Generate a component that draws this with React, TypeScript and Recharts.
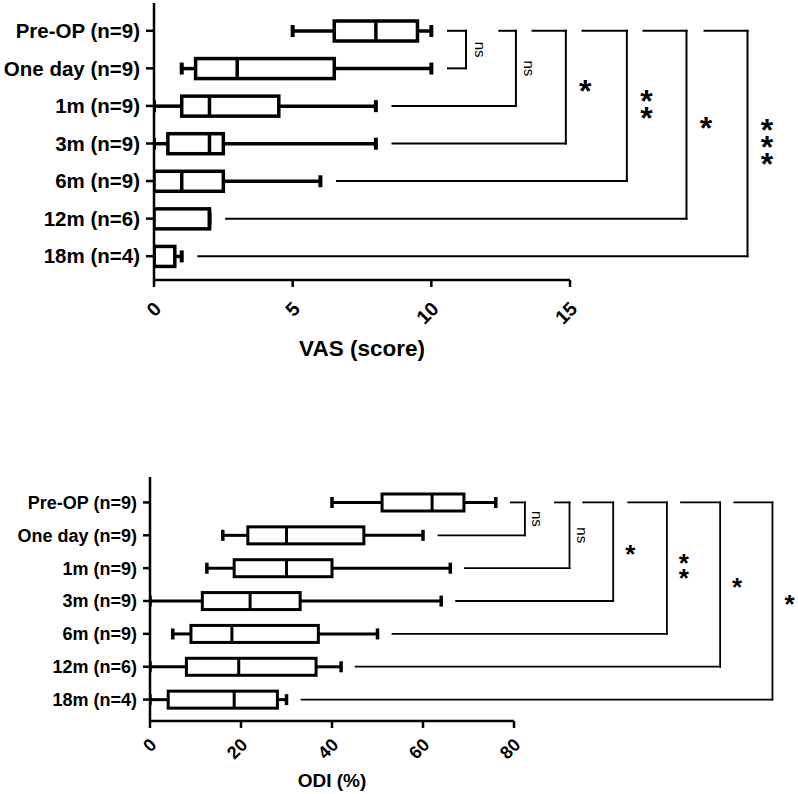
import React from 'react'
import { ComposedChart, Bar, XAxis, YAxis, ReferenceLine } from 'recharts'

const FONT = '"Liberation Sans", Arial, sans-serif'

const groups = ['Pre-OP (n=9)', 'One day (n=9)', '1m (n=9)', '3m (n=9)', '6m (n=9)', '12m (n=6)', '18m (n=4)']

// VAS (score) box summaries
const vasMin = [5, 1, 0, 0, 0, 0, 0]
const vasQ1 = [6.5, 1.5, 1, 0.5, 0, 0, 0]
const vasMedian = [8, 3, 2, 2, 1, 2, 0]
const vasQ3 = [9.5, 6.5, 4.5, 2.5, 2.5, 2, 0.75]
const vasMax = [10, 10, 8, 8, 6, 2, 1]
const vasTicks = [0, 5, 10, 15]

// ODI (%) box summaries
const odiMin = [40, 16, 12.5, 0, 5, 0, 0]
const odiQ1 = [51, 21.5, 18.5, 11.5, 9, 8, 4]
const odiMedian = [62, 30, 30, 22, 18, 19.5, 18.5]
const odiQ3 = [69, 47, 40, 33, 37, 36.5, 28]
const odiMax = [76, 60, 66, 64, 50, 42, 30]
const odiTicks = [0, 20, 40, 60, 80]

// Pre-OP vs each later group
const vasSig = ['ns', 'ns', '*', '**', '*', '***']
const vasBracketTop = [10.6, 12.45, 13.65, 15.45, 17.65, 19.85]
const vasBracketRight = [11.25, 13.05, 14.85, 17.05, 19.2, 21.4]
const vasBracketBottom = [10.6, 8.6, 8.6, 6.6, 2.6, 1.6]

const odiSig = ['ns', 'ns', '*', '**', '*', '*']
const odiBracketTop = [79.3, 89, 95.2, 105.1, 116.7, 128.4]
const odiBracketRight = [82.4, 92.2, 101.8, 113.6, 125.3, 136.8]
const odiBracketBottom = [63.4, 69.2, 67.3, 53.3, 45.2, 33.3]

const buildRows = (mn: number[], q1: number[], md: number[], q3: number[], mx: number[]) =>
  groups.map((g, i) => ({
    group: g,
    range: [mn[i], mx[i]],
    min: mn[i],
    q1: q1[i],
    median: md[i],
    q3: q3[i],
    max: mx[i],
  }))

const vasRows = buildRows(vasMin, vasQ1, vasMedian, vasQ3, vasMax)
const odiRows = buildRows(odiMin, odiQ1, odiMedian, odiQ3, odiMax)

// the bar spans min..max on the x scale, the rest is placed inside it
function BoxShape(props: any) {
  const { x, y, width, height, payload, cap, sw } = props
  if (!payload) return null
  const span = payload.max - payload.min
  const px = (v: number) => x + (span === 0 ? 0 : ((v - payload.min) / span) * width)
  const cy = y + height / 2
  return (
    <g>
      <line x1={px(payload.min)} y1={cy} x2={px(payload.q1)} y2={cy} stroke="#000" strokeWidth={sw} />
      <line x1={px(payload.q3)} y1={cy} x2={px(payload.max)} y2={cy} stroke="#000" strokeWidth={sw} />
      <line x1={px(payload.min)} y1={cy - cap / 2} x2={px(payload.min)} y2={cy + cap / 2} stroke="#000" strokeWidth={sw + 0.5} />
      <line x1={px(payload.max)} y1={cy - cap / 2} x2={px(payload.max)} y2={cy + cap / 2} stroke="#000" strokeWidth={sw + 0.5} />
      <rect
        x={px(payload.q1)}
        y={y}
        width={Math.max(px(payload.q3) - px(payload.q1), 0)}
        height={height}
        fill="#fff"
        stroke="#000"
        strokeWidth={sw}
      />
      <line x1={px(payload.median)} y1={y} x2={px(payload.median)} y2={y + height} stroke="#000" strokeWidth={sw} />
    </g>
  )
}

function RotTick(props: any) {
  const { x, y, payload, offX, offY, size } = props
  const ax = x + offX
  const ay = y + offY
  return (
    <text
      x={ax}
      y={ay}
      transform={`rotate(-45 ${ax} ${ay})`}
      textAnchor="end"
      fontSize={size}
      fontWeight="bold"
      fontFamily={FONT}
      fill="#000"
    >
      {payload.value}
    </text>
  )
}

function SigLabel(props: any) {
  const { viewBox, text, nsDx, starDx, starSize, starGap } = props
  if (!viewBox) return null
  const cy = viewBox.y + viewBox.height / 2
  if (text === 'ns') {
    const cx = viewBox.x + nsDx
    return (
      <text
        x={cx}
        y={cy}
        transform={`rotate(90 ${cx} ${cy})`}
        textAnchor="middle"
        dominantBaseline="central"
        fontSize={15}
        fontFamily={FONT}
        fill="#000"
      >
        ns
      </text>
    )
  }
  // stacked asterisks, one text element
  const cx = viewBox.x + starDx
  const n = text.length
  const y0 = cy - ((n - 1) / 2) * starGap + starSize * 0.45
  return (
    <text x={cx} y={y0} textAnchor="middle" fontSize={starSize} fontWeight="bold" fontFamily={FONT} fill="#000">
      {text.split('').map((s: string, k: number) => (
        <tspan key={k} x={cx} dy={k === 0 ? 0 : starGap}>
          {s}
        </tspan>
      ))}
    </text>
  )
}

function brackets(
  sig: string[],
  top: number[],
  right: number[],
  bottom: number[],
  lw: number,
  lbl: { nsDx: number; starDx: number; starSize: number; starGap: number }
) {
  const out: React.ReactNode[] = []
  sig.forEach((s, i) => {
    const target = groups[i + 1]
    const common = { stroke: '#000', strokeWidth: lw, ifOverflow: 'visible' as const, strokeLinecap: 'square' as const }
    out.push(
      <ReferenceLine key={`t${i}`} segment={[{ x: top[i], y: groups[0] }, { x: right[i], y: groups[0] }]} {...common} />
    )
    out.push(
      <ReferenceLine
        key={`v${i}`}
        segment={[{ x: right[i], y: groups[0] }, { x: right[i], y: target }]}
        {...common}
        label={<SigLabel text={s} {...lbl} />}
      />
    )
    out.push(
      <ReferenceLine key={`b${i}`} segment={[{ x: bottom[i], y: target }, { x: right[i], y: target }]} {...common} />
    )
  })
  return out
}

export default function App() {
  return (
    <div style={{ position: 'absolute', left: 0, top: 0, width: 798, height: 794, background: '#fff', fontFamily: FONT }}>
      <div style={{ position: 'absolute', left: 0, top: 0 }}>
        <ComposedChart width={798} height={370} data={vasRows} layout="vertical" margin={{ top: 3, right: 228, bottom: 0, left: 0 }}>
          <XAxis
            type="number"
            domain={[0, 15]}
            ticks={vasTicks}
            allowDataOverflow
            height={90}
            tickSize={7}
            tickMargin={2}
            axisLine={{ stroke: '#000', strokeWidth: 2.5 }}
            tickLine={{ stroke: '#000', strokeWidth: 2.5 }}
            tick={(p: any) => <RotTick {...p} offX={8.5} offY={21} size={19.5} />}
            label={{ value: 'VAS (score)', position: 'insideBottom', offset: 14, style: { fontSize: 22.5, fontWeight: 'bold', fontFamily: FONT, fill: '#000' } }}
          />
          <YAxis
            type="category"
            dataKey="group"
            width={154}
            interval={0}
            tickSize={8}
            tickMargin={6}
            padding={{ top: 9, bottom: 5 }}
            axisLine={{ stroke: '#000', strokeWidth: 2.5 }}
            tickLine={{ stroke: '#000', strokeWidth: 2.5 }}
            tick={{ fontSize: 20.5, fontWeight: 'bold', fontFamily: FONT, fill: '#000' }}
          />
          <Bar dataKey="range" barSize={20} isAnimationActive={false} shape={(p: any) => <BoxShape {...p} cap={12} sw={3.5} />} />
          {brackets(vasSig, vasBracketTop, vasBracketRight, vasBracketBottom, 2, { nsDx: 14, starDx: 19.5, starSize: 32, starGap: 17 })}
        </ComposedChart>
      </div>
      <div style={{ position: 'absolute', left: 0, top: 470 }}>
        <ComposedChart width={798} height={324} data={odiRows} layout="vertical" margin={{ top: 7, right: 284, bottom: 0, left: 0 }}>
          <XAxis
            type="number"
            domain={[0, 80]}
            ticks={odiTicks}
            allowDataOverflow
            height={73}
            tickSize={7}
            tickMargin={2}
            axisLine={{ stroke: '#000', strokeWidth: 2.5 }}
            tickLine={{ stroke: '#000', strokeWidth: 2.5 }}
            tick={(p: any) => <RotTick {...p} offX={7.5} offY={16} size={18} />}
            label={{ value: 'ODI (%)', position: 'insideBottom', offset: 7, style: { fontSize: 19, fontWeight: 'bold', fontFamily: FONT, fill: '#000' } }}
          />
          <YAxis
            type="category"
            dataKey="group"
            width={150}
            interval={0}
            tickSize={7}
            tickMargin={6}
            padding={{ top: 9, bottom: 5 }}
            axisLine={{ stroke: '#000', strokeWidth: 2.5 }}
            tickLine={{ stroke: '#000', strokeWidth: 2.5 }}
            tick={{ fontSize: 18, fontWeight: 'bold', fontFamily: FONT, fill: '#000' }}
          />
          <Bar dataKey="range" barSize={17} isAnimationActive={false} shape={(p: any) => <BoxShape {...p} cap={11} sw={3} />} />
          {brackets(odiSig, odiBracketTop, odiBracketRight, odiBracketBottom, 1.8, { nsDx: 13, starDx: 17, starSize: 26, starGap: 15 })}
        </ComposedChart>
      </div>
    </div>
  )
}
